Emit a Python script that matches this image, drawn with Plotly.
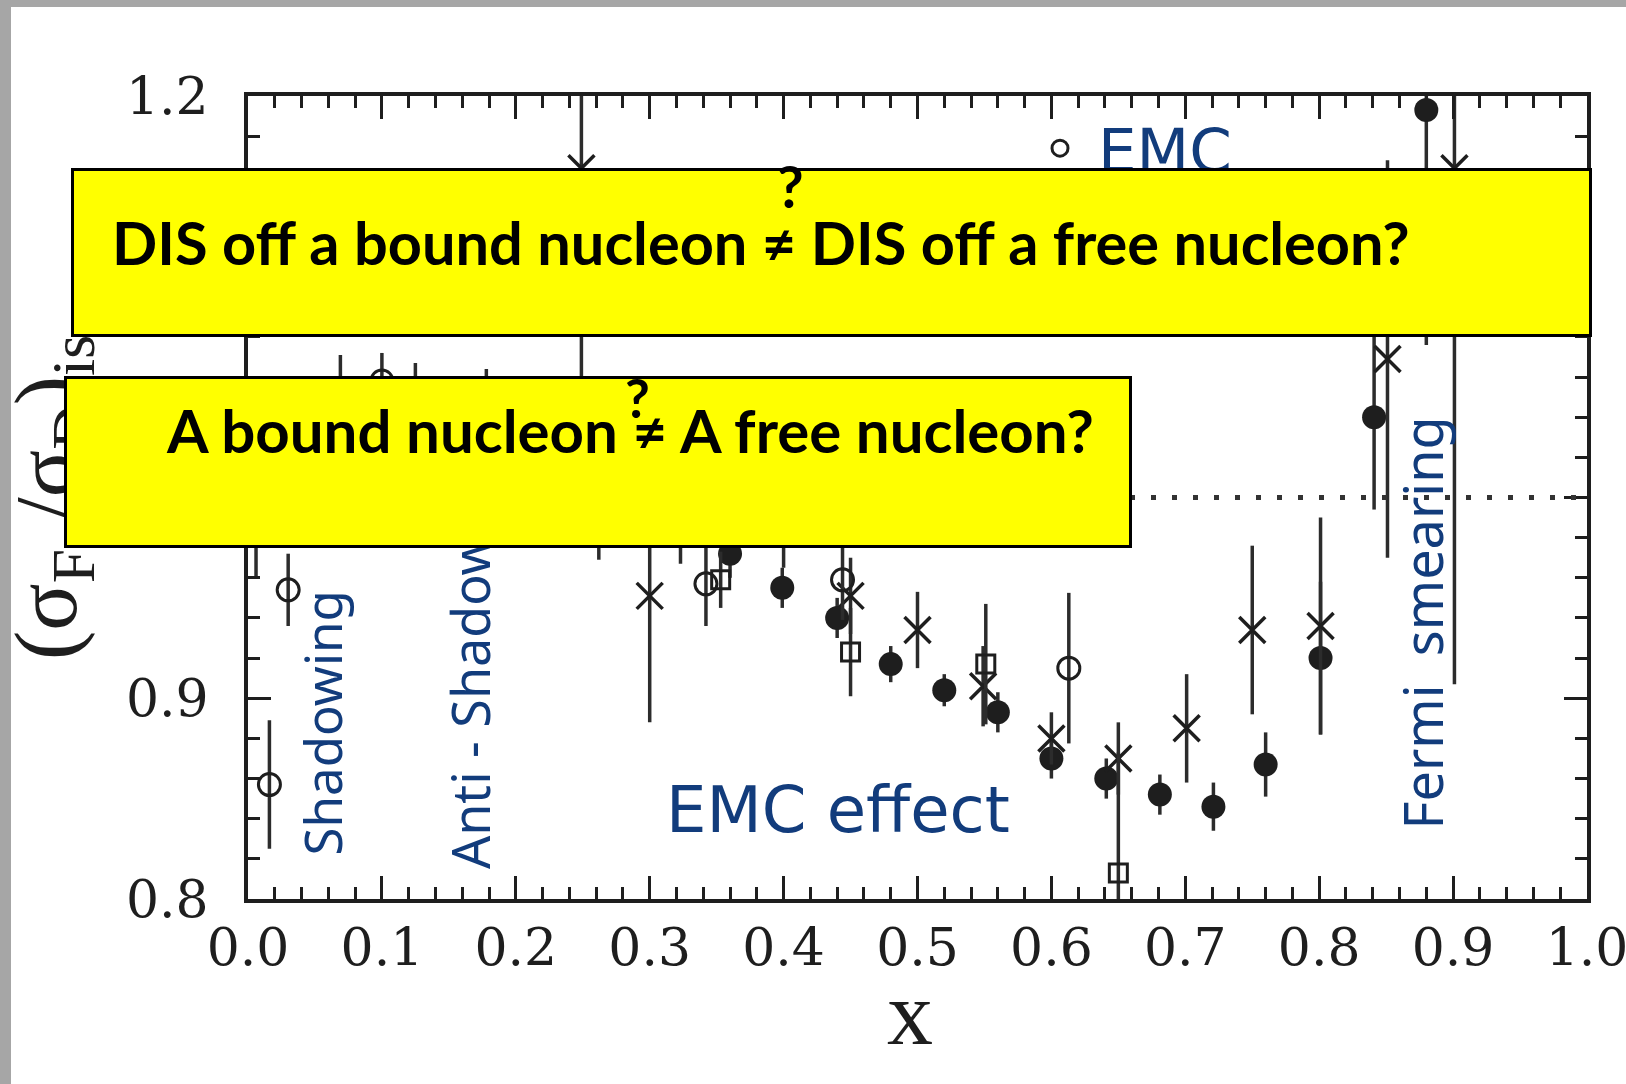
import plotly.graph_objects as go

# ---------------- data ----------------
# open circles (EMC)
emc_x = [0.006, 0.016, 0.030, 0.069, 0.100, 0.342, 0.444, 0.613]
emc_y = [1.000, 0.857, 0.954, 1.045, 1.058, 0.957, 0.959, 0.915]
emc_e = [0.040, 0.032, 0.018, 0.026, 0.014, 0.021, 0.020, 0.0375]

# filled circles
slac_x = [0.178, 0.323, 0.360, 0.399, 0.440, 0.480, 0.520, 0.560, 0.600, 0.641,
          0.681, 0.721, 0.760, 0.801, 0.841, 0.880]
slac_y = [1.050, 0.990, 0.972, 0.955, 0.940, 0.917, 0.904, 0.893, 0.870, 0.860,
          0.852, 0.846, 0.867, 0.920, 1.040, 1.193]
slac_e = [0.014, 0.023, 0.012, 0.010, 0.010, 0.009, 0.008, 0.010, 0.010, 0.010,
          0.010, 0.012, 0.016, 0.038, 0.046, 0.117]

# crosses
bcdms_x = [0.125, 0.249, 0.262, 0.300, 0.400, 0.450, 0.500, 0.549, 0.600, 0.650,
           0.701, 0.750, 0.801, 0.851, 0.901]
bcdms_y = [1.040, 1.164, 1.000, 0.951, 0.990, 0.951, 0.934, 0.906, 0.880, 0.870,
           0.885, 0.934, 0.936, 1.069, 1.164]
bcdms_e = [0.027, 0.120, 0.031, 0.063, 0.025, 0.019, 0.019, 0.020, 0.013, 0.018,
           0.027, 0.042, 0.054, 0.099, 0.257]

# open squares
sq_x = [0.353, 0.450, 0.551, 0.650]
sq_y = [0.959, 0.923, 0.917, 0.813]
sq_e = [0.014, 0.022, 0.030, 0.060]

x_ticks = [0.0, 0.1, 0.2, 0.3, 0.4, 0.5, 0.6, 0.7, 0.8, 0.9, 1.0]
y_ticks = [0.8, 0.9, 1.0, 1.1, 1.2]
unity = 1.0

# ---------------- layout geometry ----------------
W, H = 1626, 1084
ML, MR, MT, MB = 248, 39, 96, 185
PW = W - ML - MR
PH = H - MT - MB


def px(X):
    return (X - ML) / PW


def py(Y):
    return (H - MB - Y) / PH


NAVY = "#123c7c"
INK = "#1e1e1e"
BAR = "#2c2c2c"

fig = go.Figure()


def add_series(x, y, e, symbol, size, lw, name, showlegend=False):
    fig.add_trace(go.Scatter(
        x=x, y=y, mode="markers", name=name, showlegend=showlegend,
        marker=dict(symbol=symbol, size=size, color=INK,
                    line=dict(width=lw, color=INK)),
        error_y=dict(type="data", array=e, visible=True, color=BAR,
                     thickness=3.5, width=0),
    ))


add_series(slac_x, slac_y, slac_e, "circle", 24, 0, "SLAC")
add_series(bcdms_x, bcdms_y, bcdms_e, "x-thin-open", 26, 3.5, "BCDMS")
add_series(sq_x, sq_y, sq_e, "square-open", 18, 3, "other")
add_series(emc_x, emc_y, emc_e, "circle-open", 22, 3, "EMC", showlegend=True)

# dotted line at ratio 1
fig.add_shape(type="line", xref="paper", x0=0, x1=1, yref="y", y0=unity, y1=unity,
              line=dict(color="#333333", width=5, dash="5px,16px"), layer="above")

# grey frame strips of the slide
fig.add_shape(type="rect", xref="paper", yref="paper", x0=px(0), x1=px(11),
              y0=py(0), y1=py(H), fillcolor="#a6a6a6", line=dict(width=0), layer="above")
fig.add_shape(type="rect", xref="paper", yref="paper", x0=px(0), x1=px(W),
              y0=py(0), y1=py(7), fillcolor="#a6a6a6", line=dict(width=0), layer="above")

axis_common = dict(
    showline=True, linewidth=4, linecolor=INK, mirror="allticks",
    ticks="inside", tickwidth=3, tickcolor=INK, ticklen=23,
    showgrid=False, zeroline=False, ticklabeloverflow="allow", automargin=False,
    tickfont=dict(family="DejaVu Serif", size=52, color=INK),
)
fig.update_xaxes(range=[0, 1], tickvals=x_ticks, tickformat=".1f",
                 ticklabelstandoff=0,
                 minor=dict(ticks="inside", ticklen=12, tickwidth=2.5, tickcolor=INK,
                            tick0=0, dtick=0.02, showgrid=False),
                 **axis_common)
fig.update_yaxes(range=[0.8, 1.2], tickvals=y_ticks, tickformat=".1f",
                 ticklabelstandoff=25,
                 minor=dict(ticks="inside", ticklen=12, tickwidth=2.5, tickcolor=INK,
                            tick0=0.8, dtick=0.02, showgrid=False),
                 **axis_common)

ann = []


def A(text, X, Y, size, family, color=INK, angle=0, xa="center", ya="middle", **kw):
    d = dict(text=text, x=px(X), y=py(Y), xref="paper", yref="paper", showarrow=False,
             textangle=angle, xanchor=xa, yanchor=ya,
             font=dict(family=family, size=size, color=color))
    d["font"].update(kw.pop("font_extra", {}))
    d.update(kw)
    ann.append(d)


# axis titles
A("(σ<sub>Fe</sub>/σ<sub>D</sub>)<sub>is</sub>", 52, 498, 88, "Liberation Serif", angle=-90)
A("x", 910, 1013, 92, "Liberation Serif")

# region labels
A("Shadowing", 321, 858, 51, "Noto Sans", color=NAVY, angle=-90, ya="bottom")
A("Anti - Shadowing", 469, 871, 52, "Noto Sans", color=NAVY, angle=-90, ya="bottom")
A("Fermi  smearing", 1421, 832, 54, "Noto Sans", color=NAVY, angle=-90, ya="bottom")
A("EMC effect", 838, 810, 64, "DejaVu Sans", color=NAVY)

# yellow boxes
for (x0, x1, y0, y1) in [(71.5, 1592, 168, 336.5), (64.5, 1132, 376.5, 548)]:
    ann.append(dict(text=" ", x=px((x0 + x1) / 2), y=py((y0 + y1) / 2),
                    xref="paper", yref="paper", showarrow=False,
                    xanchor="center", yanchor="middle",
                    width=(x1 - x0) - 6, height=(y1 - y0) - 6,
                    bgcolor="#FFFF00", bordercolor="black", borderwidth=3, borderpad=0,
                    font=dict(size=10)))

BOLD = dict(weight="bold")
A("DIS off a bound nucleon ≠ DIS off a free nucleon?", 110, 242, 59.5, "Lato",
  color="black", xa="left", font_extra=BOLD)
A("?", 790, 185, 58, "Lato", color="black", font_extra=BOLD)
A("A bound nucleon ≠ A free nucleon?", 164, 430, 60, "Lato",
  color="black", xa="left", font_extra=BOLD)
A("?", 637, 398, 54, "Lato", color="black", font_extra=BOLD)

fig.update_layout(
    width=W, height=H, autosize=False,
    margin=dict(l=ML, r=MR, t=MT, b=MB, pad=0, autoexpand=False),
    plot_bgcolor="white", paper_bgcolor="white",
    annotations=ann,
    legend=dict(x=px(1022), y=py(102), xanchor="left", yanchor="top",
                bgcolor="rgba(0,0,0,0)", borderwidth=0, itemwidth=66,
                font=dict(family="DejaVu Sans", size=61, color=NAVY)),
)

fig.write_html("out.html",
               config={"displayModeBar": False, "responsive": False},
               post_script="document.body.style.margin='0';document.body.style.padding='0';")
